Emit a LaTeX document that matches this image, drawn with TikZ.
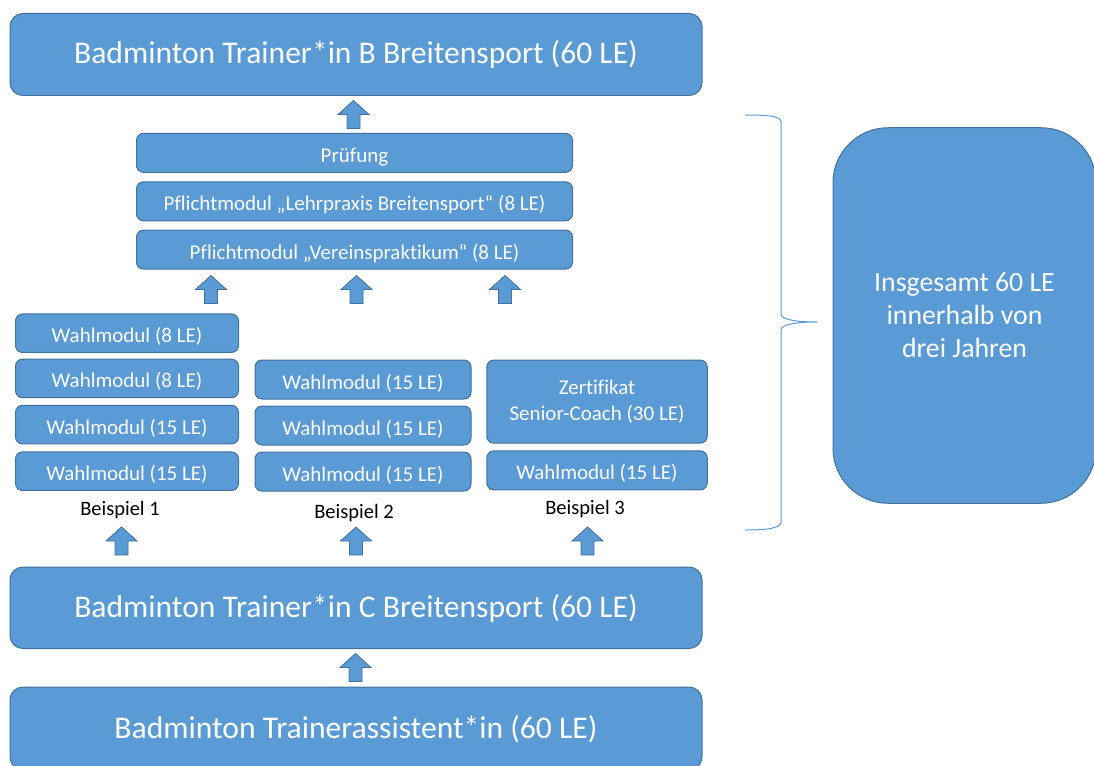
\documentclass[tikz,border=0pt]{standalone}
\usepackage{fontspec}
\setmainfont{Carlito}[Ligatures={NoCommon}]
\definecolor{boxfill}{HTML}{5B9BD5}
\definecolor{boxline}{HTML}{41719C}
\tikzset{
  box/.style={draw=boxline, fill=boxfill, line width=1pt, text=white, inner sep=0pt, outer sep=0pt, align=center},
  oneline/.style={text height=19pt, text depth=0pt},
  bigbox/.style={box, oneline, rounded corners=13pt, font=\fontsize{31.6}{38}\selectfont},
  smallbox/.style={box, oneline, rounded corners=7pt, font=\fontsize{21}{26}\selectfont},
  twolinebox/.style={box, rounded corners=7pt, font=\fontsize{21}{26}\selectfont},
  sidebox/.style={box, rounded corners=55pt, font=\fontsize{27.8}{33}\selectfont},
  example/.style={text=black, inner sep=0pt, anchor=base, font=\fontsize{20.5}{24}\selectfont},
  bracestyle/.style={draw=boxfill, line width=1pt},
  uparrow/.pic={\draw[draw=boxline, fill=boxfill, line width=0.8pt, line join=miter]
     (0,0) -- (15.5,14) -- (6.5,14) -- (6.5,28) -- (-6.5,28) -- (-6.5,14) -- (-15.5,14) -- cycle;}
}
\begin{document}
\begin{tikzpicture}[x=1pt, y=-1pt]
\useasboundingbox (0,0) rectangle (1094,765);
\clip (0,0) rectangle (1094,765);
% big boxes
\node[bigbox, minimum width=692pt, minimum height=82pt] (B) at (356,54.5) {Badminton Trainer*in B Breitensport (60 LE)};
\node[bigbox, minimum width=692pt, minimum height=81.5pt] (C) at (356,607.75) {Badminton Trainer*in C Breitensport (60 LE)};
\node[bigbox, minimum width=692pt, minimum height=83pt] (TA) at (356,728.5) {Badminton Trainerassistent*in (60 LE)};
% mandatory part
\node[smallbox, minimum width=436pt, minimum height=39pt] (P) at (354.5,152.8) {Prüfung};
\node[smallbox, minimum width=436pt, minimum height=39pt] (L) at (354.5,201.3) {Pflichtmodul „Lehrpraxis Breitensport“ (8 LE)};
\node[smallbox, minimum width=436pt, minimum height=39pt] (V) at (354.5,249.6) {Pflichtmodul „Vereinspraktikum“ (8 LE)};
% example 1
\node[smallbox, minimum width=223pt, minimum height=38.5pt] (a1) at (127,333.2) {Wahlmodul (8 LE)};
\node[smallbox, minimum width=223pt, minimum height=38.5pt] (a2) at (127,378.4) {Wahlmodul (8 LE)};
\node[smallbox, minimum width=223pt, minimum height=38.5pt] (a3) at (127,424.6) {Wahlmodul (15 LE)};
\node[smallbox, minimum width=223pt, minimum height=38.5pt] (a4) at (127,471.2) {Wahlmodul (15 LE)};
% example 2
\node[smallbox, minimum width=216pt, minimum height=39pt] (b1) at (363,379.5) {Wahlmodul (15 LE)};
\node[smallbox, minimum width=216pt, minimum height=39pt] (b2) at (363,425.5) {Wahlmodul (15 LE)};
\node[smallbox, minimum width=216pt, minimum height=39pt] (b3) at (363,471.5) {Wahlmodul (15 LE)};
% example 3
\node[twolinebox, minimum width=220.5pt, minimum height=83pt] (c1) at (597,401.6) {Zertifikat\\Senior-Coach (30 LE)};
\node[smallbox, minimum width=220.5pt, minimum height=39pt] (c2) at (597,470.4) {Wahlmodul (15 LE)};
% example labels
\node[example] (e1) at (120,515) {Beispiel 1};
\node[example] (e2) at (354,518) {Beispiel 2};
\node[example] (e3) at (585,514) {Beispiel 3};
% arrows
\pic (u0) at (353.5,100.5) {uparrow};
\pic (u1) at (211,275.5) {uparrow};
\pic (u2) at (356.5,275.5) {uparrow};
\pic (u3) at (505,275.5) {uparrow};
\pic (u4) at (121.5,527) {uparrow};
\pic (u5) at (356,527) {uparrow};
\pic (u6) at (587.5,527) {uparrow};
\pic (u7) at (355.5,653.5) {uparrow};
% side box
\node[sidebox, minimum width=263pt, minimum height=375.5pt] (S) at (964.5,315.5) {Insgesamt 60 LE\\innerhalb von\\drei Jahren};
% brace
\draw[bracestyle] (745,115) .. controls (768,115) and (781,116) .. (781,122) -- (781,314)
  .. controls (781,320) and (798,322) .. (817,322)
  .. controls (798,322) and (781,324) .. (781,330) -- (781,522)
  .. controls (781,528) and (768,530) .. (745,530);
\end{tikzpicture}
\end{document}
